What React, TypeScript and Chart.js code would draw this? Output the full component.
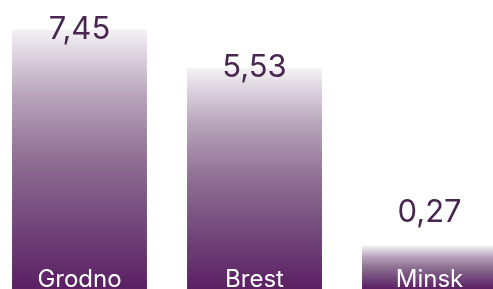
import React, { useEffect, useRef } from "react";
import { Chart, BarController, BarElement, CategoryScale, LinearScale } from "chart.js";

const categories = ["Grodno", "Brest", "Minsk"];
const values = [7.45, 5.53, 0.27];
const valueLabels = ["7,45", "5,53", "0,27"];

const EXP = 0.54;

class PowScale extends LinearScale {
  static id = "pow";
  static defaults = LinearScale.defaults;
  getPixelForValue(v: any) {
    if (v === null || v === undefined) return NaN;
    const s = (this as any)._startValue;
    const r = (this as any)._valueRange;
    const d = (v - s) / r;
    return this.getPixelForDecimal(Math.sign(d) * Math.pow(Math.abs(d), EXP));
  }
  getValueForPixel(px: number) {
    const d = this.getDecimalForPixel(px);
    return (this as any)._startValue + Math.pow(Math.max(d, 0), 1 / EXP) * (this as any)._valueRange;
  }
}

Chart.register(BarController, BarElement, CategoryScale, LinearScale, PowScale as any);

const FONT = "Inter, 'Noto Sans', sans-serif";

const labelPlugin = {
  id: "labels",
  afterDatasetsDraw(chart: any) {
    const ctx = chart.ctx;
    const meta = chart.getDatasetMeta(0);
    ctx.save();
    ctx.textAlign = "center";
    ctx.textBaseline = "alphabetic";
    meta.data.forEach((bar: any, i: number) => {
      const h = bar.base - bar.y;
      ctx.fillStyle = "#ffffff";
      ctx.font = `400 24px ${FONT}`;
      ctx.fillText(categories[i], bar.x, chart.chartArea.bottom - 2);
      ctx.fillStyle = "#48264f";
      ctx.font = `400 31px ${FONT}`;
      const yb = h > 100 ? bar.y + 9 : bar.y - 24;
      ctx.fillText(valueLabels[i], bar.x, yb);
    });
    ctx.restore();
  },
};

export default function App() {
  const ref = useRef<HTMLCanvasElement>(null);
  useEffect(() => {
    if (!ref.current) return;
    const chart = new Chart(ref.current, {
      type: "bar",
      data: {
        labels: categories,
        datasets: [
          {
            data: values,
            barPercentage: 0.771,
            categoryPercentage: 1,
            borderWidth: 0,
            backgroundColor: (c: any) => {
              const ch = c.chart;
              const ys = ch.scales?.y;
              if (!ys || !ch.chartArea || c.raw === undefined) return "#5b1f63";
              const top = ys.getPixelForValue(c.raw);
              const base = ys.getPixelForValue(0);
              const g = ch.ctx.createLinearGradient(0, top, 0, base);
              g.addColorStop(0, "#f4f1f5");
              g.addColorStop(0.25, "#b8a5bb");
              g.addColorStop(0.5, "#8e6f93");
              g.addColorStop(0.75, "#72477a");
              g.addColorStop(1, "#5b1f63");
              return g;
            },
          },
        ],
      },
      options: {
        responsive: false,
        animation: false,
        layout: { padding: 0 },
        plugins: { legend: { display: false }, tooltip: { enabled: false } } as any,
        scales: {
          x: { type: "category", display: false },
          y: { type: "pow" as any, display: false, min: 0, max: 9.1 },
        },
      },
      plugins: [labelPlugin],
    });
    return () => chart.destroy();
  }, []);
  return (
    <div style={{ position: "fixed", left: 0, top: 0, width: 493, height: 289, overflow: "hidden", background: "#fff" }}>
      <canvas ref={ref} width={525} height={289} style={{ position: "absolute", left: -8, top: 0, width: 525, height: 289 }} />
    </div>
  );
}
